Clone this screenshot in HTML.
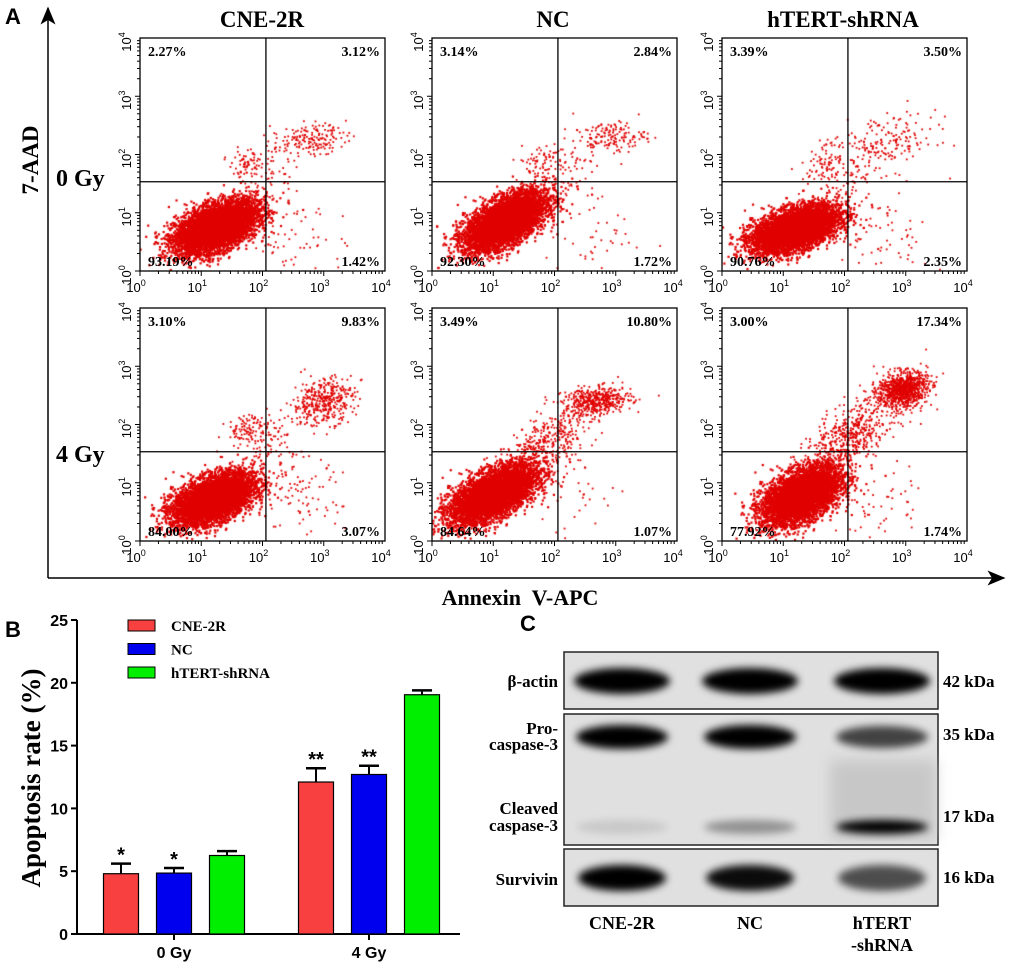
<!DOCTYPE html>
<html><head><meta charset="utf-8">
<style>
body{margin:0;background:#fff;}
#root{position:relative;width:1020px;height:970px;overflow:hidden;background:#fff;}
</style></head>
<body>
<div id="root">
<svg id="svg" width="1020" height="970" xmlns="http://www.w3.org/2000/svg" style="position:absolute;left:0;top:0">
  <defs>
    <marker id="arr" markerWidth="12" markerHeight="10" refX="11" refY="5" orient="auto"><path d="M0,0 L12,5 L0,10 L3,5 Z" fill="#000"/></marker>
    <filter id="blur" x="-20%" y="-50%" width="140%" height="200%"><feGaussianBlur stdDeviation="4"/></filter>
    <filter id="blur2" x="-20%" y="-50%" width="140%" height="200%"><feGaussianBlur stdDeviation="7"/></filter>
  </defs>
  <g id="panelA">
    <text x="5" y="24" font-size="22" font-family="Liberation Sans" font-weight="bold">A</text>
    <line x1="48" y1="578" x2="48" y2="8" stroke="#000" stroke-width="1.5" marker-end="url(#arr)"/>
    <line x1="48" y1="578" x2="1004" y2="578" stroke="#000" stroke-width="1.5" marker-end="url(#arr)"/>
    <text transform="translate(38,160) rotate(-90)" text-anchor="middle" font-family="Liberation Serif" font-weight="bold" font-size="23">7-AAD</text>
    <text x="520" y="605" text-anchor="middle" font-family="Liberation Serif" font-weight="bold" font-size="22" xml:space="preserve">Annexin  V-APC</text>
    <text x="56" y="186" font-family="Liberation Serif" font-weight="bold" font-size="24">0 Gy</text>
    <text x="56" y="462" font-family="Liberation Serif" font-weight="bold" font-size="24">4 Gy</text>
    <text x="262" y="27" text-anchor="middle" font-family="Liberation Serif" font-weight="bold" font-size="23">CNE-2R</text>
    <text x="553" y="27" text-anchor="middle" font-family="Liberation Serif" font-weight="bold" font-size="23">NC</text>
    <text x="843" y="27" text-anchor="middle" font-family="Liberation Serif" font-weight="bold" font-size="23">hTERT-shRNA</text>
  </g>
  <g id="plots"></g>

  <g id="panelB">
    <text x="5" y="637" font-family="Liberation Sans" font-weight="bold" font-size="22">B</text>
    <text transform="translate(40,778) rotate(-90)" text-anchor="middle" font-family="Liberation Serif" font-weight="bold" font-size="27">Apoptosis rate (%)</text>
    <g id="bars"></g>
  </g>

  <g id="panelC">
    <text x="520" y="631" font-family="Liberation Sans" font-weight="bold" font-size="22">C</text>
    <g id="blot"></g>
  </g>
</svg>
</div>
<script>
// ---------- Flow cytometry data ----------
const flowPercents = [
  ["2.27%","3.12%","93.19%","1.42%"],
  ["3.14%","2.84%","92.30%","1.72%"],
  ["3.39%","3.50%","90.76%","2.35%"],
  ["3.10%","9.83%","84.00%","3.07%"],
  ["3.49%","10.80%","84.64%","1.07%"],
  ["3.00%","17.34%","77.92%","1.74%"]
];
const flowNames = ["cne2r-0gy","nc-0gy","htert-0gy","cne2r-4gy","nc-4gy","htert-4gy"];
// cluster centers (log10 x, log10 y)
const clusterCenters = [
  [[1.25,0.75],[1.75,1.85],[2.75,2.25],[2.6,0.6],[2.0,1.5]],
  [[1.2,0.85],[1.75,1.9],[2.9,2.3],[2.6,0.6],[2.1,1.6]],
  [[1.2,0.72],[1.7,1.9],[2.7,2.2],[2.6,0.6],[2.0,1.5]],
  [[1.2,0.72],[1.8,1.95],[3.0,2.4],[2.6,0.7],[2.1,1.7]],
  [[1.0,0.8],[1.8,1.7],[2.7,2.4],[2.4,0.8],[2.0,1.7]],
  [[1.3,0.78],[2.0,1.7],[2.95,2.6],[2.6,0.7],[2.3,2.0]]
];
// cluster spreads (sdx, sdy, corr)
const clusterSpreads = [
  [[.33,.22,.5],[.15,.12,.2],[.3,.13,.2],[.4,.4,0],[.3,.3,.5]],
  [[.33,.25,.6],[.2,.15,.3],[.3,.13,.2],[.4,.4,0],[.3,.3,.5]],
  [[.35,.2,.5],[.2,.15,.3],[.4,.25,.2],[.4,.4,0],[.3,.3,.5]],
  [[.33,.22,.5],[.2,.12,.3],[.25,.2,.2],[.35,.4,0],[.35,.3,.5]],
  [[.35,.25,.6],[.3,.25,.6],[.28,.12,.2],[.4,.4,0],[.35,.3,.6]],
  [[.32,.25,.5],[.3,.25,.6],[.2,.15,.2],[.35,.4,0],[.4,.35,.6]]
];
const clusterCounts = [
  [6000,70,170,60,70],
  [6000,60,150,45,70],
  [6000,80,170,70,70],
  [5500,90,380,90,100],
  [5500,200,450,35,140],
  [5000,240,900,50,280]
];
const colX = [140,432,722];
const rowY = [38,308];
const boxW = 245, boxH = 233, quadFX = 0.514, quadFY = 0.617;

const NS = "http://www.w3.org/2000/svg";
function mk(tag, attrs, parent){const e=document.createElementNS(NS,tag);for(const k in attrs)e.setAttribute(k,attrs[k]);if(parent)parent.appendChild(e);return e;}

let seed = 12345;
function rnd(){seed=(seed*1103515245+12345)&0x7fffffff;return seed/0x7fffffff;}
function gauss(){let u=rnd()||1e-6,v=rnd();return Math.sqrt(-2*Math.log(u))*Math.cos(2*Math.PI*v);}

const plots = document.getElementById('plots');
for(let p=0;p<6;p++){
  const x0 = colX[p%3], y0 = rowY[Math.floor(p/3)];
  const g = mk('g',{},plots);
  
  
  const sx = v=> x0 + v/4*boxW, sy = v=> y0 + boxH - v/4*boxH;
  const fo = mk('foreignObject',{x:x0,y:y0,width:boxW,height:boxH},g);
  const cv = document.createElement('canvas');
  cv.width=boxW; cv.height=boxH;
  
  
  fo.appendChild(cv);
  const ctx = cv.getContext('2d');
  ctx.fillStyle = '#e00000';
  for(let c=0;c<clusterCenters[p].length;c++){
    const [mx,my]=clusterCenters[p][c], [dx,dy,r]=clusterSpreads[p][c], n=clusterCounts[p][c];
    const sz = c===0?2.2:1.8;
    for(let i=0;i<n;i++){
      const a=gauss(), b=gauss();
      const lx = mx + dx*a, ly = my + dy*(r*a + Math.sqrt(1-r*r)*b);
      if(lx<0||lx>4||ly<0||ly>4) continue;
      ctx.fillRect(sx(lx)-x0-sz/2, sy(ly)-y0-sz/2, sz, sz);
    }
  }
  mk('rect',{x:x0,y:y0,width:boxW,height:boxH,fill:'none',stroke:'#000','stroke-width':1.3},g);
  const qx = x0+quadFX*boxW, qy = y0+quadFY*boxH;
  mk('line',{x1:qx,y1:y0,x2:qx,y2:y0+boxH,stroke:'#000','stroke-width':1.3},g);
  mk('line',{x1:x0,y1:qy,x2:x0+boxW,y2:qy,stroke:'#000','stroke-width':1.3},g);
  for(let d=0;d<4;d++){
    for(let m=1;m<10;m++){
      const v = d+Math.log10(m), L = m===1?5:3;
      mk('line',{x1:sx(v),y1:y0+boxH,x2:sx(v),y2:y0+boxH+L,stroke:'#000','stroke-width':1},g);
      mk('line',{x1:x0,y1:sy(v),x2:x0-L,y2:sy(v),stroke:'#000','stroke-width':1},g);
    }
  }
  for(let d=0;d<=4;d++){
    const t = mk('text',{x:sx(d)-4,y:y0+boxH+21,'text-anchor':'middle','font-family':'Liberation Sans','font-size':13},g);
    t.innerHTML='10<tspan dy="-6" font-size="9">'+d+'</tspan>';
    const t2 = mk('text',{transform:'translate('+(x0-9)+','+(sy(d)+4)+') rotate(-90)','text-anchor':'middle','font-family':'Liberation Sans','font-size':13},g);
    t2.innerHTML='10<tspan dy="-6" font-size="9">'+d+'</tspan>';
  }
  const pc = flowPercents[p];
  const pos = [[x0+8,y0+18,'start'],[x0+boxW-5,y0+18,'end'],[x0+8,y0+boxH-5,'start'],[x0+boxW-5,y0+boxH-5,'end']];
  const qn=['ul','ur','ll','lr'];
  for(let q=0;q<4;q++){
    const t=mk('text',{x:pos[q][0],y:pos[q][1],'text-anchor':pos[q][2],'font-family':'Liberation Serif','font-weight':'bold','font-size':14},g);
    t.textContent=pc[q];
    
    
  }
}

// ---------- Bar chart data ----------
const groups = ["0 Gy","4 Gy"];
const seriesNames = ["CNE-2R","NC","hTERT-shRNA"];
const seriesColors = ["#f84040","#0000ee","#00ee00"];
const valsCNE = [4.8, 12.1];
const valsNC = [4.85, 12.7];
const valsHT = [6.25, 19.05];
const errCNE = [0.8, 1.1];
const errNC = [0.4, 0.7];
const errHT = [0.35, 0.35];
const stars = [["*","*",""],["**","**",""]];
const yTicks = [0,5,10,15,20,25];

const bars = document.getElementById('bars');
const ax0=77, axY0=934, axY1=620, axX1=460, yMax=25;
const yS = v=> axY0 - v/yMax*(axY0-axY1);
const groupCenters=[174,369], bw=35, gap=53;
mk('line',{x1:ax0,y1:axY1,x2:ax0,y2:axY0,stroke:'#000','stroke-width':2},bars);
mk('line',{x1:ax0,y1:axY0,x2:axX1,y2:axY0,stroke:'#000','stroke-width':2},bars);
yTicks.forEach(v=>{
  mk('line',{x1:ax0-6,y1:yS(v),x2:ax0,y2:yS(v),stroke:'#000','stroke-width':2},bars);
  const t=mk('text',{x:ax0-9,y:yS(v)+6,'text-anchor':'end','font-family':'Liberation Sans','font-weight':'bold','font-size':16},bars);
  t.textContent=v;
});
const allV=[valsCNE,valsNC,valsHT], allE=[errCNE,errNC,errHT];
groups.forEach((gname,gi)=>{
  const cx=groupCenters[gi];
  mk('line',{x1:cx,y1:axY0,x2:cx,y2:axY0+6,stroke:'#000','stroke-width':2},bars);
  const t=mk('text',{x:cx,y:axY0+24,'text-anchor':'middle','font-family':'Liberation Sans','font-weight':'bold','font-size':16},bars);
  t.textContent=gname;
  for(let s=0;s<3;s++){
    const bx = cx + (s-1)*gap - bw/2, v=allV[s][gi], e=allE[s][gi];
    const r=mk('rect',{x:bx,y:yS(v),width:bw,height:axY0-yS(v),fill:seriesColors[s],stroke:'#000','stroke-width':1.2},bars);
    
    
    const mx=bx+bw/2;
    mk('line',{x1:mx,y1:yS(v),x2:mx,y2:yS(v+e),stroke:'#000','stroke-width':2},bars);
    mk('line',{x1:mx-10,y1:yS(v+e),x2:mx+10,y2:yS(v+e),stroke:'#000','stroke-width':2.5},bars);
    if(stars[gi][s]){
      const st=mk('text',{x:mx,y:yS(v+e)-2,'text-anchor':'middle','font-family':'Liberation Sans','font-weight':'bold','font-size':20},bars);
      st.textContent=stars[gi][s];
    }
  }
});
seriesNames.forEach((n,s)=>{
  const y=620+s*23.5;
  const r=mk('rect',{x:128,y:y,width:27,height:11,fill:seriesColors[s],stroke:'#000','stroke-width':1},bars);
  
  
  const t=mk('text',{x:171,y:y+11,'font-family':'Liberation Serif','font-weight':'bold','font-size':15},bars);
  t.textContent=n;
  
  
});

// ---------- Western blot ----------
const laneX = [622,750,882];
const actinI = [1,1,1];
const proI = [1,1,0.7];
const cleavedI = [0.1,0.35,1];
const survI = [1,0.95,0.65];
const blot=document.getElementById('blot');
const bx0=564,bx1=938;
const boxes=[[652,709],[714,845],[849,906]];
boxes.forEach((b,i)=>{
  const r=mk('rect',{x:bx0,y:b[0],width:bx1-bx0,height:b[1]-b[0],fill:'#e0e0e0',stroke:'#222','stroke-width':1.5},blot);
  
  
});
mk('rect',{x:830,y:760,width:106,height:80,fill:'#b8b8b8',filter:'url(#blur2)',opacity:0.6},blot);
function band(cx,cy,w,h,int){
  mk('ellipse',{cx:cx,cy:cy,rx:w/2,ry:h/2,fill:'#000',opacity:Math.min(1,int),filter:'url(#blur)'},blot);
}
laneX.forEach((x,i)=>{
  band(x,681,96,26,actinI[i]);
  band(x,737,92,18+6*proI[i],proI[i]);
  band(x,827,92,14,cleavedI[i]);
  band(x,878,88,26,survI[i]);
});
const leftLabels=[["β-actin",687],["Pro-",734],["caspase-3",750],["Cleaved",814],["caspase-3",831],["Survivin",885]];
leftLabels.forEach(([t,y])=>{
  const e=mk('text',{x:558,y:y,'text-anchor':'end','font-family':'Liberation Serif','font-weight':'bold','font-size':17},blot);
  e.textContent=t;
});
const rightLabels=[["42 kDa",687],["35 kDa",740],["17 kDa",822],["16 kDa",883]];
rightLabels.forEach(([t,y])=>{
  const e=mk('text',{x:943,y:y,'font-family':'Liberation Serif','font-weight':'bold','font-size':17},blot);
  e.textContent=t;
});
const bottomLabels=[["CNE-2R",622,929],["NC",750,929],["hTERT",882,929],["-shRNA",882,951]];
bottomLabels.forEach(([t,x,y])=>{
  const e=mk('text',{x:x,y:y,'text-anchor':'middle','font-family':'Liberation Serif','font-weight':'bold','font-size':18},blot);
  e.textContent=t;
  
  
});
</script>
</body></html>
